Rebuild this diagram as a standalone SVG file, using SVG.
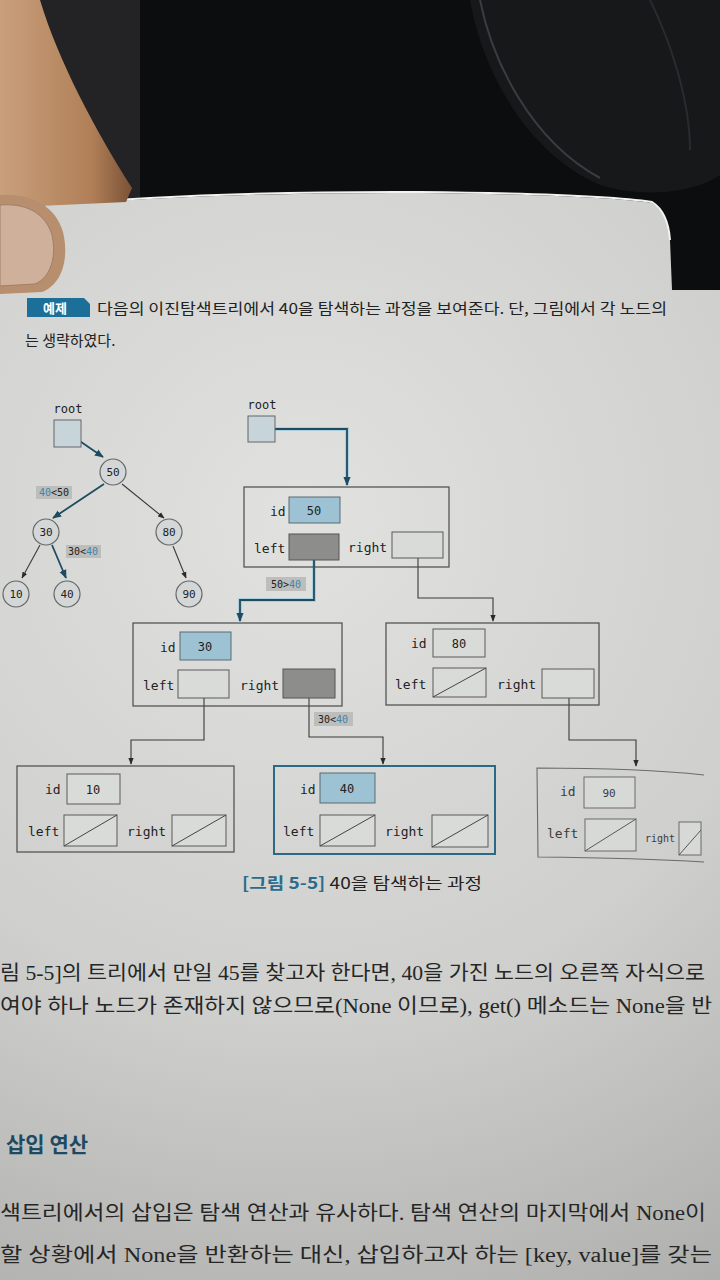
<svg xmlns="http://www.w3.org/2000/svg" width="720" height="1280" viewBox="0 0 720 1280">
<defs>
  <radialGradient id="pageG" cx="300" cy="520" r="900" gradientUnits="userSpaceOnUse">
    <stop offset="0" stop-color="#e1e2df"/>
    <stop offset="0.55" stop-color="#cfd0cd"/>
    <stop offset="1" stop-color="#acadab"/>
  </radialGradient>
  <linearGradient id="skin" x1="0" y1="0" x2="1" y2="0">
    <stop offset="0" stop-color="#c9a07c"/>
    <stop offset="0.7" stop-color="#b07f58"/>
    <stop offset="1" stop-color="#7a5236"/>
  </linearGradient>
  <marker id="ah" viewBox="0 0 10 10" refX="9" refY="5" markerWidth="6" markerHeight="6" orient="auto-start-reverse">
    <path d="M0,1 L10,5 L0,9 Z" fill="#2a2a2a"/>
  </marker>
  <marker id="ahb" viewBox="0 0 10 10" refX="9" refY="5" markerWidth="5" markerHeight="5" orient="auto-start-reverse">
    <path d="M0,1 L10,5 L0,9 Z" fill="#1d4b60"/>
  </marker>
  <style>
    .mono{font-family:"DejaVu Sans Mono","Liberation Mono",monospace;fill:#222;}
    .lbl{font-size:13px;}
    .val{font-size:12px;text-anchor:middle;}
    .outer{fill:none;stroke:#4a4a4a;stroke-width:1.2;}
    .fld{fill:#d9dbd8;stroke:#5a5a5a;stroke-width:1;}
    .hl{fill:#9cc2d3;stroke:#5a6a72;stroke-width:1;}
    .dk{fill:#8d8e8c;stroke:#555;stroke-width:1;}
    .diag{stroke:#444;stroke-width:1;}
    .circ{fill:#d3d7d7;stroke:#666;stroke-width:1.2;}
    .cval{font-size:11px;text-anchor:middle;}
    .tag{fill:#bdbebc;}
    .conn{fill:none;stroke:#3a3a3a;stroke-width:1.1;}
    .connH{fill:none;stroke:#1e4c62;stroke-width:1.8;}
    .glow{fill:none;stroke:#8ec4dc;stroke-width:4;opacity:0.6;}
    .kr{font-family:"Noto Sans CJK KR","Noto Sans",sans-serif;fill:#222;}
    .body{font-family:"Liberation Serif","Noto Sans CJK KR",serif;fill:#262626;font-size:20px;}
  </style>
</defs>

<!-- background scene -->
<rect x="0" y="0" width="720" height="1280" fill="#0c0d0f"/>
<rect x="40" y="0" width="100" height="210" fill="#232325"/>
<path d="M470,0 C480,60 520,150 600,185 C650,200 700,190 720,175 L720,0 Z" fill="#17181a"/>
<path d="M480,0 C492,60 530,140 600,178" fill="none" stroke="#3b3c40" stroke-width="2"/>
<path d="M650,0 C670,40 690,100 690,150" fill="none" stroke="#2a2b2e" stroke-width="2"/>

<!-- page -->
<path d="M40,206 Q220,192 420,193 Q600,195 652,203 Q668,212 670,240 L672,290 L720,290 L720,1280 L0,1280 L0,290 Z" fill="url(#pageG)"/>
<path d="M45,205 Q220,191 420,192 Q600,194 652,202 Q668,212 670,240" fill="none" stroke="#f2f2f0" stroke-width="2"/>

<!-- finger and thumb -->
<path d="M0,0 L40,0 C58,60 95,130 132,188 L126,202 L40,206 L0,200 Z" fill="url(#skin)"/>
<path d="M0,195 C30,193 55,205 63,232 C70,262 60,285 42,292 L0,294 Z" fill="#b88f6e"/>
<path d="M0,205 C25,203 45,212 52,235 C57,258 50,278 35,284 L0,286 Z" fill="#cfb09b" stroke="#a07e66" stroke-width="1"/>

<!-- header -->
<g id="header">
  <path d="M27,298 L84,298 L90,304 L90,317 L27,317 Z" fill="#1c6f98"/>
  <text x="55" y="313" class="kr" font-size="13" font-weight="bold" fill="#ffffff" text-anchor="middle" style="fill:#fff">예제</text>
  <text x="97" y="314" class="kr" font-size="15" textLength="570" lengthAdjust="spacingAndGlyphs">다음의 이진탐색트리에서 40을 탐색하는 과정을 보여준다. 단, 그림에서 각 노드의</text>
  <text x="25" y="346" class="kr" font-size="15">는 생략하였다.</text>
</g>

<!-- left tree connectors -->
<g id="tree-connectors">
  <line x1="68" y1="433" x2="103" y2="457" class="connH" marker-end="url(#ahb)"/>
  <line x1="104" y1="484" x2="53" y2="518" class="connH" marker-end="url(#ahb)"/>
  <line x1="122" y1="484" x2="164" y2="518" class="conn" marker-end="url(#ah)"/>
  <line x1="40" y1="545" x2="22" y2="578" class="conn" marker-end="url(#ah)"/>
  <line x1="52" y1="545" x2="66" y2="578" class="connH" marker-end="url(#ahb)"/>
  <line x1="173" y1="546" x2="186" y2="578" class="conn" marker-end="url(#ah)"/>
</g>

<!-- left tree -->
<g id="t-root">
  <text x="68" y="413" class="mono" font-size="12" text-anchor="middle">root</text>
  <rect x="54" y="420" width="27" height="27" fill="#c7d4da" stroke="#666"/>
</g>
<g id="t-50"><circle cx="113" cy="472" r="13" class="circ"/><text x="113" y="476" class="mono cval">50</text></g>
<g id="t-30"><circle cx="46" cy="532" r="13" class="circ"/><text x="46" y="536" class="mono cval">30</text></g>
<g id="t-80"><circle cx="169" cy="532" r="13" class="circ"/><text x="169" y="536" class="mono cval">80</text></g>
<g id="t-10"><circle cx="16" cy="594" r="13" class="circ"/><text x="16" y="598" class="mono cval">10</text></g>
<g id="t-40"><circle cx="67" cy="594" r="13" class="circ"/><text x="67" y="598" class="mono cval">40</text></g>
<g id="t-90"><circle cx="189" cy="594" r="13" class="circ"/><text x="189" y="598" class="mono cval">90</text></g>
<g id="t-lab1"><rect x="36" y="486" width="36" height="13" class="tag"/><text x="54" y="496" class="mono" font-size="10" text-anchor="middle"><tspan fill="#3a86b0">40</tspan>&lt;50</text></g>
<g id="t-lab2"><rect x="66" y="545" width="35" height="13" class="tag"/><text x="83" y="555" class="mono" font-size="10" text-anchor="middle">30&lt;<tspan fill="#3a86b0">40</tspan></text></g>

<!-- right diagram connectors -->
<g id="connectors">
  <path d="M262,429 H347 V485" class="glow"/>
  <path d="M262,429 H347 V485" class="connH" marker-end="url(#ahb)"/>
  <path d="M314,547 V600 H240 V621" class="glow"/>
  <path d="M314,547 V600 H240 V621" class="connH" marker-end="url(#ahb)"/>
  <path d="M418,547 V598 H493 V621" class="conn" marker-end="url(#ah)"/>
  <path d="M204,684 V740 H131 V764" class="conn" marker-end="url(#ah)"/>
  <path d="M309,684 V737 H383 V764" class="conn" marker-end="url(#ah)"/>
  <path d="M569,684 V740 H636 V766" class="conn" marker-end="url(#ah)"/>
  <rect x="266" y="577" width="40" height="14" class="tag"/>
  <text x="286" y="588" class="mono" font-size="10" text-anchor="middle">50&gt;<tspan fill="#3a86b0">40</tspan></text>
  <rect x="314" y="712" width="39" height="14" class="tag"/>
  <text x="333" y="723" class="mono" font-size="10" text-anchor="middle">30&lt;<tspan fill="#3a86b0">40</tspan></text>
</g>

<!-- right root -->
<g id="root">
  <text x="262" y="409" class="mono" font-size="12" text-anchor="middle">root</text>
  <rect x="248" y="416" width="27" height="26" fill="#c7d4da" stroke="#666"/>
</g>

<!-- node 50 -->
<g id="node50">
  <rect x="244" y="487" width="205" height="80" class="outer"/>
  <text x="270" y="516" class="mono lbl">id</text>
  <rect x="289" y="497" width="51" height="26" class="hl"/>
  <text x="314" y="515" class="mono val">50</text>
  <text x="254" y="553" class="mono lbl">left</text>
  <rect x="289" y="534" width="50" height="26" class="dk"/>
  <text x="348" y="552" class="mono lbl">right</text>
  <rect x="392" y="532" width="51" height="26" class="fld"/>
</g>

<!-- node 30 -->
<g id="node30">
  <rect x="133" y="623" width="209" height="83" class="outer"/>
  <text x="160" y="652" class="mono lbl">id</text>
  <rect x="180" y="632" width="51" height="28" class="hl"/>
  <text x="205" y="651" class="mono val">30</text>
  <text x="143" y="690" class="mono lbl">left</text>
  <rect x="178" y="670" width="51" height="28" class="fld"/>
  <text x="240" y="690" class="mono lbl">right</text>
  <rect x="283" y="669" width="52" height="29" class="dk"/>
</g>

<!-- node 80 -->
<g id="node80">
  <rect x="386" y="623" width="213" height="82" class="outer"/>
  <text x="411" y="648" class="mono lbl">id</text>
  <rect x="433" y="629" width="52" height="28" class="fld"/>
  <text x="459" y="648" class="mono val">80</text>
  <text x="395" y="689" class="mono lbl">left</text>
  <rect x="433" y="668" width="53" height="29" class="fld"/>
  <line x1="433" y1="697" x2="486" y2="668" class="diag"/>
  <text x="497" y="689" class="mono lbl">right</text>
  <rect x="542" y="669" width="52" height="29" class="fld"/>
</g>

<!-- node 10 -->
<g id="node10">
  <rect x="17" y="766" width="217" height="86" class="outer"/>
  <text x="45" y="794" class="mono lbl">id</text>
  <rect x="67" y="774" width="53" height="30" class="fld"/>
  <text x="93" y="794" class="mono val">10</text>
  <text x="28" y="836" class="mono lbl">left</text>
  <rect x="64" y="815" width="53" height="31" class="fld"/>
  <line x1="64" y1="846" x2="117" y2="815" class="diag"/>
  <text x="127" y="836" class="mono lbl">right</text>
  <rect x="172" y="815" width="54" height="31" class="fld"/>
  <line x1="172" y1="846" x2="226" y2="815" class="diag"/>
</g>

<!-- node 40 -->
<g id="node40">
  <rect x="274" y="766" width="221" height="88" fill="none" stroke="#2b6a86" stroke-width="2"/>
  <text x="300" y="794" class="mono lbl">id</text>
  <rect x="320" y="773" width="55" height="30" class="hl"/>
  <text x="347" y="793" class="mono val">40</text>
  <text x="283" y="836" class="mono lbl">left</text>
  <rect x="320" y="815" width="55" height="31" class="fld"/>
  <line x1="320" y1="846" x2="375" y2="815" class="diag"/>
  <text x="385" y="836" class="mono lbl">right</text>
  <rect x="432" y="815" width="56" height="32" class="fld"/>
  <line x1="432" y1="847" x2="488" y2="815" class="diag"/>
</g>

<!-- node 90 -->
<g id="node90" opacity="0.85">
  <path d="M704,775 Q640,768 537,768 L538,857 Q640,858 704,862" fill="none" stroke="#5a5a5a" stroke-width="1.1"/>
  <text x="560" y="796" class="mono lbl">id</text>
  <rect x="584" y="777" width="51" height="31" class="fld"/>
  <text x="609" y="797" class="mono" font-size="11" text-anchor="middle">90</text>
  <text x="547" y="838" class="mono lbl">left</text>
  <rect x="585" y="819" width="51" height="32" class="fld"/>
  <line x1="585" y1="851" x2="636" y2="819" class="diag"/>
  <text x="645" y="842" class="mono" font-size="10">right</text>
  <rect x="679" y="822" width="22" height="33" class="fld"/>
  <line x1="679" y1="855" x2="701" y2="830" class="diag"/>
</g>

<!-- caption -->
<text x="242" y="889" class="kr" font-size="16" textLength="240" lengthAdjust="spacingAndGlyphs"><tspan fill="#2b6b8c" font-weight="bold">[그림 5-5]</tspan> 40을 탐색하는 과정</text>

<!-- body text -->
<text x="0" y="980" class="body" textLength="705" lengthAdjust="spacingAndGlyphs">림 5-5]의 트리에서 만일 45를 찾고자 한다면, 40을 가진 노드의 오른쪽 자식으로</text>
<text x="0" y="1013" class="body" textLength="712" lengthAdjust="spacingAndGlyphs">여야 하나 노드가 존재하지 않으므로(None 이므로), get() 메소드는 None을 반</text>
<text x="6" y="1152" class="kr" font-size="21" font-weight="bold" fill="#1d4a62" style="fill:#1d4a62">삽입 연산</text>
<text x="0" y="1220" class="body" textLength="706" lengthAdjust="spacingAndGlyphs">색트리에서의 삽입은 탐색 연산과 유사하다. 탐색 연산의 마지막에서 None이</text>
<text x="0" y="1262" class="body" textLength="712" lengthAdjust="spacingAndGlyphs">할 상황에서 None을 반환하는 대신, 삽입하고자 하는 [key, value]를 갖는</text>
</svg>
